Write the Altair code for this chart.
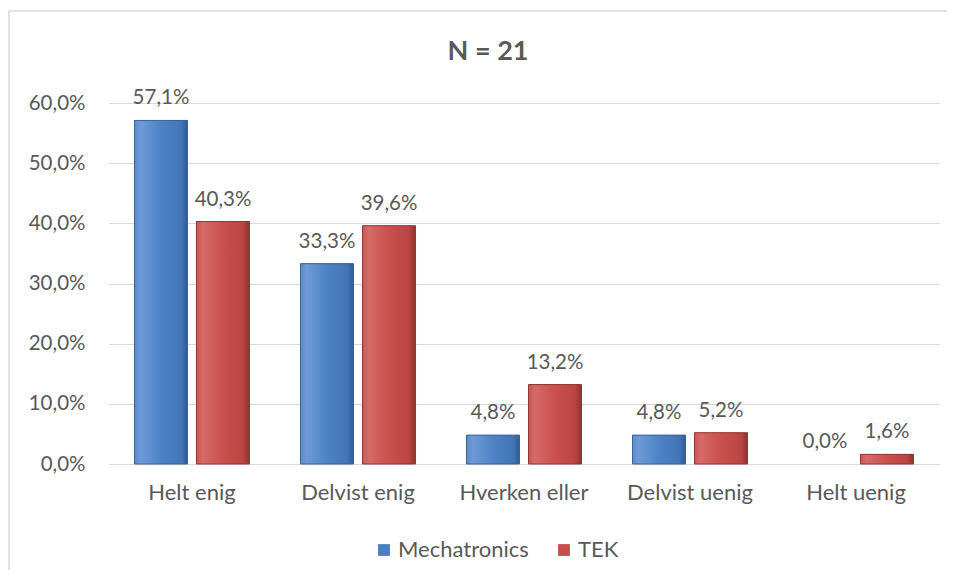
import altair as alt
import pandas as pd

categories = ["Helt enig", "Delvist enig", "Hverken eller", "Delvist uenig", "Helt uenig"]
series = ["Mechatronics", "TEK"]
mech = [57.1, 33.3, 4.8, 4.8, 0.0]
tek = [40.3, 39.6, 13.2, 5.2, 1.6]
title_text = "N = 21"

rows = []
for c, m, t in zip(categories, mech, tek):
    rows.append({"cat": c, "series": "Mechatronics", "value": m})
    rows.append({"cat": c, "series": "TEK", "value": t})
df = pd.DataFrame(rows)

FONT = "Lato"
TXT = "#595959"
W, H = 830, 361

xenc = alt.X("cat:N", sort=categories, title=None,
             scale=alt.Scale(paddingInner=0.307, paddingOuter=0.1535),
             axis=alt.Axis(labelAngle=0, labelFontSize=22, labelColor=TXT, labelFont=FONT,
                           ticks=False, domain=True, domainColor="#d9d9d9", labelPadding=18))
xoff = alt.XOffset("series:N", sort=series,
                   scale=alt.Scale(paddingInner=0.145, paddingOuter=0))
yenc = alt.Y("value:Q", title=None,
             scale=alt.Scale(domain=[0, 60]),
             axis=alt.Axis(values=[0, 10, 20, 30, 40, 50, 60], labelFontSize=20.5, labelColor=TXT,
                           labelFont=FONT, ticks=False, domain=False, gridColor="#d9d9d9",
                           gridWidth=1.2, labelPadding=24,
                           labelExpr="replace(format(datum.value, '.1f'), '.', ',') + '%'"))

base = alt.Chart(df)

solid = base.mark_bar().encode(
    x=xenc, xOffset=xoff, y=yenc,
    color=alt.Color("series:N", sort=series,
                    scale=alt.Scale(domain=series, range=["#4a7ec2", "#c44f4c"]),
                    legend=alt.Legend(title=None, orient="none", direction="horizontal",
                                      legendX=264, legendY=436, symbolType="square",
                                      symbolSize=140, labelFontSize=22, labelColor=TXT,
                                      labelFont=FONT, columnPadding=24, labelOffset=3,
                                      symbolStrokeWidth=0)),
).transform_filter(alt.datum.value > 0)

blue_grad = alt.LinearGradient(gradient="linear", x1=0, x2=1, y1=0, y2=0, stops=[
    alt.GradientStop(color="#5b8bcb", offset=0),
    alt.GradientStop(color="#6e9ad6", offset=0.12),
    alt.GradientStop(color="#4d82c6", offset=0.5),
    alt.GradientStop(color="#4475b6", offset=0.88),
    alt.GradientStop(color="#2f5b93", offset=1),
])
red_grad = alt.LinearGradient(gradient="linear", x1=0, x2=1, y1=0, y2=0, stops=[
    alt.GradientStop(color="#c85855", offset=0),
    alt.GradientStop(color="#d66a67", offset=0.12),
    alt.GradientStop(color="#c9504d", offset=0.5),
    alt.GradientStop(color="#b94543", offset=0.88),
    alt.GradientStop(color="#8f312f", offset=1),
])

blue = base.mark_bar(color=blue_grad, stroke="#3a6296", strokeWidth=1).encode(
    x=xenc, xOffset=xoff, y=yenc
).transform_filter((alt.datum.series == "Mechatronics") & (alt.datum.value > 0))
red = base.mark_bar(color=red_grad, stroke="#923634", strokeWidth=1).encode(
    x=xenc, xOffset=xoff, y=yenc
).transform_filter((alt.datum.series == "TEK") & (alt.datum.value > 0))

labels = base.mark_text(baseline="bottom", dy=-12, fontSize=20.5, color=TXT, font=FONT).encode(
    x=xenc, xOffset=xoff, y=yenc,
    text=alt.Text("lbl:N"),
).transform_calculate(lbl="replace(format(datum.value, '.1f'), '.', ',') + '%'")

one = pd.DataFrame({"t": [title_text]})
title_mark = alt.Chart(one).mark_text(fontSize=27, font=FONT, fontWeight="bold", color=TXT,
                                      baseline="middle", align="center").encode(
    x=alt.value(379), y=alt.value(-51), text="t:N")

border_v = alt.Chart(one).mark_rule(color="#d9d9d9", strokeWidth=1.5).encode(
    x=alt.value(-100), y=alt.value(-92), y2=alt.value(480))
border_h = alt.Chart(one).mark_rule(color="#d9d9d9", strokeWidth=1.5).encode(
    x=alt.value(-100), x2=alt.value(850), y=alt.value(-92))

chart = alt.layer(border_v, border_h, solid, blue, red, labels, title_mark).properties(
    width=W, height=H,
    autosize=alt.AutoSizeParams(type="none"),
    padding={"left": 101, "top": 95, "right": 8, "bottom": 106},
).configure_view(stroke=None)

chart.save("out.html", embed_options={"renderer": "svg", "actions": False})
